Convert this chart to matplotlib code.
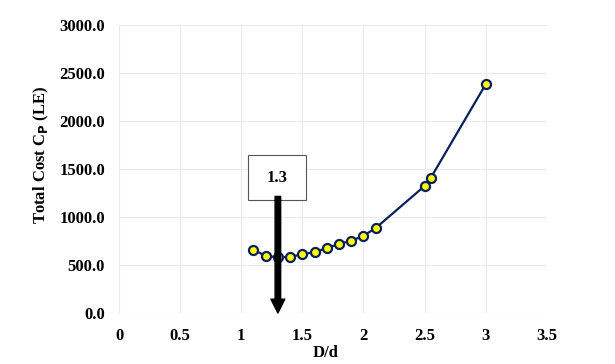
import matplotlib
matplotlib.use("Agg")
import matplotlib.pyplot as plt
from matplotlib.patches import Rectangle

# values
ratio = [1.1, 1.2, 1.3, 1.4, 1.5, 1.6, 1.7, 1.8, 1.9, 2.0, 2.1, 2.5, 2.55, 3.0]
total_cost = [656, 597, 580, 586, 611, 635, 677, 719, 753, 805, 885, 1323, 1406, 2382]
optimum = 1.3
optimum_label = "1.3"

x_ticks = [0, 0.5, 1, 1.5, 2, 2.5, 3, 3.5]
x_tick_labels = ["0", "0.5", "1", "1.5", "2", "2.5", "3", "3.5"]
y_ticks = [0, 500, 1000, 1500, 2000, 2500, 3000]

plt.rcParams['font.family'] = ['Liberation Serif', 'DejaVu Serif']
plt.rcParams['font.weight'] = 'bold'

fig = plt.figure(figsize=(6.15, 3.64), dpi=100)
ax = fig.add_axes([0.1935, 0.140, 0.6955, 0.791])

ax.plot(ratio, total_cost, color='#0b1f5c', lw=1.6, marker='o', ms=6.5,
        mfc='#ffff00', mec='#0b1f5c', mew=1.6, zorder=3)

# box with the optimum value
ax.add_patch(Rectangle((1.057, 1177), 0.473, 469, facecolor='white',
                       edgecolor='#555555', lw=0.8, zorder=4))
ax.text(1.293, 1411, optimum_label, ha='center', va='center', fontsize=12,
        fontweight='bold', zorder=5)

# arrow pointing at the optimum
ax.annotate('', xy=(optimum, 0), xytext=(optimum, 1215),
            arrowprops=dict(arrowstyle='simple,head_width=0.5,tail_width=0.2,head_length=0.5',
                            mutation_scale=20, color='black', shrinkA=0, shrinkB=0),
            zorder=6)

ax.set_xlim(0, 3.5)
ax.set_ylim(0, 3000)
ax.set_xticks(x_ticks)
ax.set_xticklabels(x_tick_labels)
ax.set_yticks(y_ticks)
ax.set_yticklabels(["%.1f" % v for v in y_ticks])
ax.tick_params(length=0, labelsize=12, pad=11)
ax.tick_params(axis='y', pad=10)
ax.grid(True, color='#ebebeb', lw=0.8)
ax.set_axisbelow(True)
for s in ax.spines.values():
    s.set_visible(False)

ax.set_xlabel('D/d', fontsize=12, fontweight='bold')
ax.xaxis.set_label_coords(0.482, -0.112)
ax.set_ylabel(r'Total Cost C$_\mathbf{P}$ (LE)', fontsize=12, fontweight='bold')
ax.yaxis.set_label_coords(-0.16, 0.55)

fig.savefig('out.png', dpi=100)
